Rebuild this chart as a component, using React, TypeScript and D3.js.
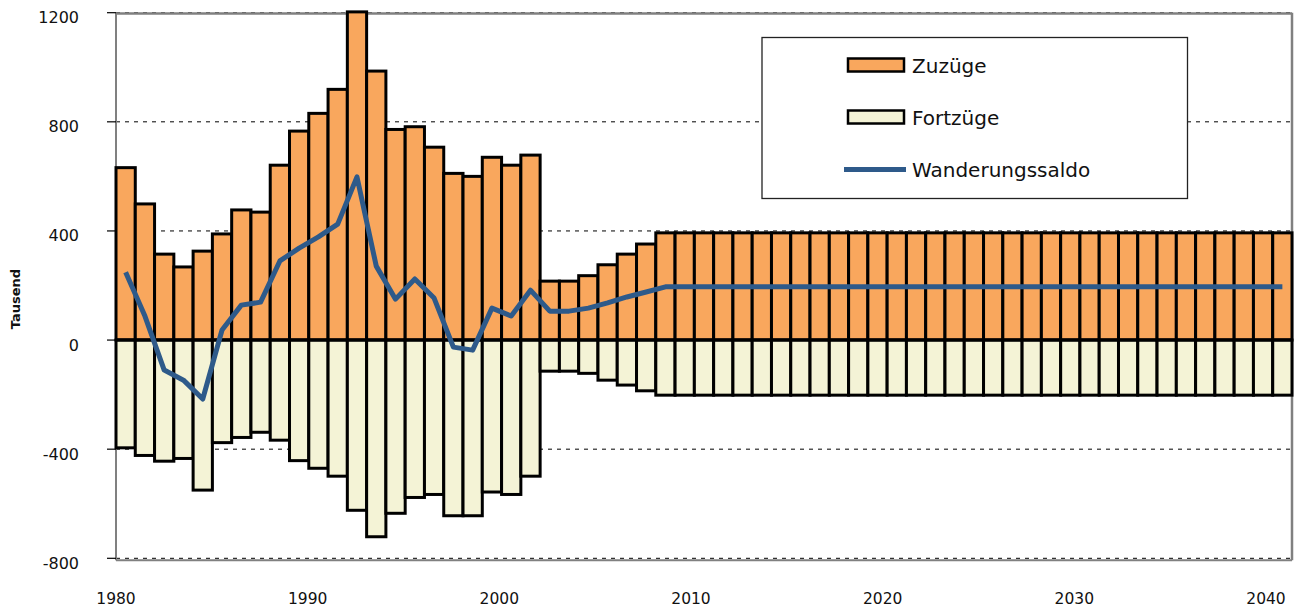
import React from "react";
import * as d3 from "d3";

const years: number[] = d3.range(1980, 2041);

const zuzuege: number[] = [
  632, 499, 315, 268, 326, 389, 477, 469, 641, 766,
  831, 919, 1203, 986, 772, 782, 707, 611, 600, 670,
  641, 678, 216, 216, 236, 276, 315, 352, 393, 393,
  393, 393, 393, 393, 393, 393, 393, 393, 393, 393,
  393, 393, 393, 393, 393, 393, 393, 393, 393, 393,
  393, 393, 393, 393, 393, 393, 393, 393, 393, 393,
  393,
];

const fortzuege: number[] = [
  -395, -423, -444, -434, -550, -376, -357, -338, -367, -442,
  -470, -499, -624, -721, -635, -577, -566, -644, -644, -557,
  -566, -499, -114, -114, -122, -147, -165, -186, -202, -202,
  -202, -202, -202, -202, -202, -202, -202, -202, -202, -202,
  -202, -202, -202, -202, -202, -202, -202, -202, -202, -202,
  -202, -202, -202, -202, -202, -202, -202, -202, -202, -202,
  -202,
];

const saldo: number[] = [
  249, 88, -110, -147, -216, 37, 128, 139, 290, 337,
  378, 425, 598, 271, 150, 224, 154, -26, -37, 117,
  88, 183, 106, 106, 117, 136, 158, 176, 195, 195,
  195, 195, 195, 195, 195, 195, 195, 195, 195, 195,
  195, 195, 195, 195, 195, 195, 195, 195, 195, 195,
  195, 195, 195, 195, 195, 195, 195, 195, 195, 195,
  195,
];

const yTicks: number[] = [-800, -400, 0, 400, 800, 1200];
const xTickYears: number[] = [1980, 1990, 2000, 2010, 2020, 2030, 2040];

const legendItems = [
  { label: "Zuzüge", kind: "bar", fill: "#F9A75D" },
  { label: "Fortzüge", kind: "bar", fill: "#F4F3D6" },
  { label: "Wanderungssaldo", kind: "line", fill: "#2E5A8A" },
];

const FONT = "'DejaVu Sans', sans-serif";
const ORANGE = "#F9A75D";
const CREAM = "#F4F3D6";
const BLUE = "#2E5A8A";

export default function App() {
  const W = 1304;
  const H = 609;
  const left = 116;
  const right = 1292;
  const top = 12.7;
  const bottom = 558.3;

  const x = d3.scaleBand<number>().domain(years).range([left, right]).padding(0);
  const xLabel = d3.scaleLinear().domain([1980, 2040]).range([116, 1266]);
  const y = d3.scaleLinear().domain([-800, 1200]).range([bottom, top]);
  const bw = x.bandwidth();

  const line = d3
    .line<number>()
    .x((_, i) => (x(years[i]) as number) + bw / 2)
    .y((d) => y(d))
    .curve(d3.curveLinear);

  return (
    <svg
      width={W}
      height={H}
      style={{ position: "absolute", left: 0, top: 0, background: "#fff" }}
      fontFamily={FONT}
    >
      <rect x={0} y={0} width={W} height={H} fill="#fff" />
      {/* gridlines */}
      {yTicks
        .filter((t) => t !== 0)
        .map((t) => (
          <line
            key={"g" + t}
            x1={left}
            x2={right}
            y1={y(t)}
            y2={y(t)}
            stroke="#000"
            strokeWidth={1}
            strokeDasharray="4,5"
          />
        ))}
      {/* plot frame */}
      <line x1={left} x2={right} y1={top + 0.8} y2={top + 0.8} stroke="#808080" strokeWidth={2.5} />
      <line x1={left} x2={right} y1={bottom + 2} y2={bottom + 2} stroke="#808080" strokeWidth={2} />
      <line x1={right} x2={right} y1={top} y2={bottom + 2} stroke="#808080" strokeWidth={2.5} />
      <line x1={left} x2={left} y1={top} y2={bottom + 2} stroke="#808080" strokeWidth={2} />
      {/* y ticks */}
      {yTicks.map((t) => (
        <g key={"t" + t}>
          <line x1={107} x2={left} y1={y(t)} y2={y(t)} stroke="#000" strokeWidth={1.2} />
          <text x={79} y={y(t) + 10.5} textAnchor="end" fontSize={16} fill="#111">
            {t}
          </text>
        </g>
      ))}
      {/* bars */}
      {years.map((yr, i) => (
        <g key={"b" + yr}>
          <rect
            x={x(yr)}
            y={y(zuzuege[i])}
            width={bw}
            height={y(0) - y(zuzuege[i])}
            fill={ORANGE}
            stroke="#000"
            strokeWidth={3}
          />
          <rect
            x={x(yr)}
            y={y(0)}
            width={bw}
            height={y(fortzuege[i]) - y(0)}
            fill={CREAM}
            stroke="#000"
            strokeWidth={3}
          />
        </g>
      ))}
      <line x1={left} x2={right} y1={y(0)} y2={y(0)} stroke="#000" strokeWidth={3} />
      {/* saldo line */}
      <path
        d={line(saldo) || ""}
        fill="none"
        stroke={BLUE}
        strokeWidth={5}
        strokeLinejoin="round"
      />
      {/* x labels */}
      {xTickYears.map((yr) => (
        <text key={"x" + yr} x={xLabel(yr)} y={604} textAnchor="middle" fontSize={15.5} fill="#111">
          {yr}
        </text>
      ))}
      {/* axis title */}
      <text
        transform={`translate(20,${299}) rotate(-90)`}
        textAnchor="middle"
        fontSize={13}
        fontWeight="bold"
        fill="#111"
      >
        Tausend
      </text>
      {/* legend */}
      <rect x={762} y={37.5} width={425.5} height={161} fill="#fff" stroke="#222" strokeWidth={1.3} />
      {legendItems.map((it, i) => {
        const cy = [65, 117, 169.5][i];
        return (
          <g key={it.label}>
            {it.kind === "bar" ? (
              <rect x={848} y={cy - 6.5} width={56} height={13} fill={it.fill} stroke="#000" strokeWidth={2.5} />
            ) : (
              <line x1={844} x2={906} y1={cy} y2={cy} stroke={it.fill} strokeWidth={5} />
            )}
            <text x={912} y={cy + 7.5} fontSize={20} fill="#111">
              {it.label}
            </text>
          </g>
        );
      })}
    </svg>
  );
}
